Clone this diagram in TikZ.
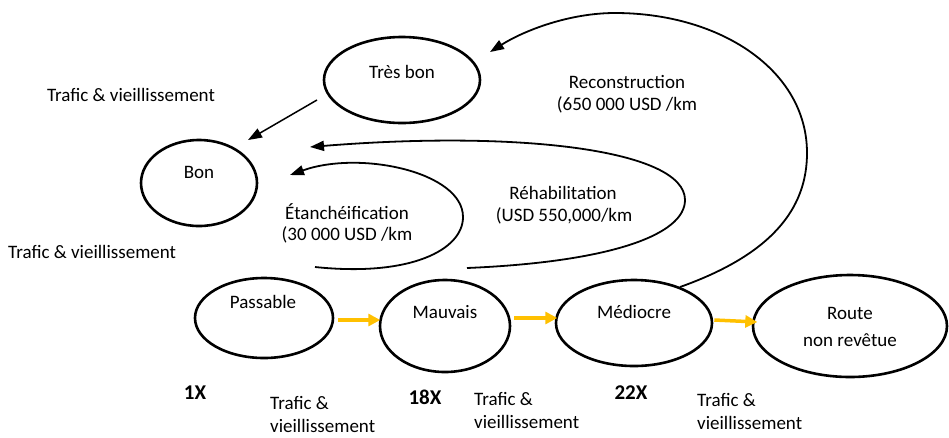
\documentclass[tikz,border=0pt]{standalone}
\usepackage{fontspec}
\setmainfont{Carlito}
\usetikzlibrary{shapes.geometric,arrows.meta}
\definecolor{amber}{HTML}{FFC000}
\begin{document}
\begin{tikzpicture}[x=1pt,y=-1pt,
  state/.style={draw,ellipse,line width=2.6pt,inner sep=0pt},
  txt/.style={font=\fontsize{19}{23}\selectfont,inner sep=0pt},
  num/.style={txt,font=\fontsize{21}{25}\selectfont\bfseries},
  twoline/.style={txt,align=left,anchor=north west},
  loop/.style={line width=1.8pt,-{Triangle[length=14pt,width=10pt]}},
  decay/.style={line width=1.5pt,-{Triangle[length=14pt,width=10pt]}},
  step2/.style={draw=amber,line width=3.5pt,-{Triangle[length=12pt,width=12pt]}}]
\useasboundingbox (0,0) rectangle (949,437);

% condition states
\node[state,minimum width=156pt,minimum height=86pt] (tb) at (402,80) {};
\node[state,minimum width=116pt,minimum height=86pt] (bon) at (199,183) {};
\node[state,minimum width=138pt,minimum height=80pt] (pas) at (264,318) {};
\node[state,minimum width=130pt,minimum height=92pt] (mau) at (445,326) {};
\node[state,minimum width=156pt,minimum height=86pt] (med) at (634,323) {};
\node[state,minimum width=194pt,minimum height=102pt] (route) at (850,326) {};

\node[txt] at (402,72) {Très bon};
\node[txt] at (199,172) {Bon};
\node[txt] at (263,302) {Passable};
\node[txt] at (445,312) {Mauvais};
\node[txt] at (634,312) {Médiocre};
\node[txt] at (850,313) {Route};
\node[txt] at (850,340) {non revêtue};

% side notes
\node[txt] at (131,95) {Trafic \& vieillissement};
\node[txt,anchor=west] at (8,252) {Trafic \& vieillissement};
\node[num] at (195,393) {1X};
\node[num] at (425,397) {18X};
\node[num] at (631,393) {22X};
\node[twoline] at (270,396) {Trafic \&\\vieillissement};
\node[twoline] at (474,392) {Trafic \&\\vieillissement};
\node[twoline] at (697,393) {Trafic \&\\vieillissement};

% treatment labels
\node[txt] at (347,212) {Étanchéification};
\node[txt] at (347,235) {(30 000 USD /km};
\node[txt] at (563,193) {Réhabilitation};
\node[txt] at (564,216) {(USD 550,000/km};
\node[txt] at (627,82) {Reconstruction};
\node[txt] at (627,105) {(650 000 USD /km};

% deterioration
\coordinate (tbout) at (317,100);
\coordinate (bonin) at (248,140);
\draw[decay] (tbout) -- (bonin);
\draw[step2] (pas.east) ++(4,2) -- ++(42,0);
\draw[step2] (mau.east) ++(3,-8) -- ++(43,0);
\draw[step2] (med.east) ++(1,-3) -- ++(43,2);

% treatment loops
\coordinate (e0) at (315,267);
\coordinate (e1) at (290,175);
\draw[loop] (e0) .. controls (410,277) and (463,250) .. (463,217)
  .. controls (463,172) and (360,150) .. (e1);
\coordinate (r0) at (467,268);
\coordinate (r1) at (310,147);
\draw[loop] (r0) .. controls (610,262) and (685,235) .. (685,200)
  .. controls (685,150) and (520,130) .. (r1);
\coordinate (c0) at (680,287);
\coordinate (c1) at (490,52);
\draw[loop] (c0) .. controls (770,255) and (807,210) .. (807,153)
  .. controls (807,70) and (720,13) .. (615,13)
  .. controls (570,13) and (525,30) .. (c1);
\end{tikzpicture}
\end{document}
